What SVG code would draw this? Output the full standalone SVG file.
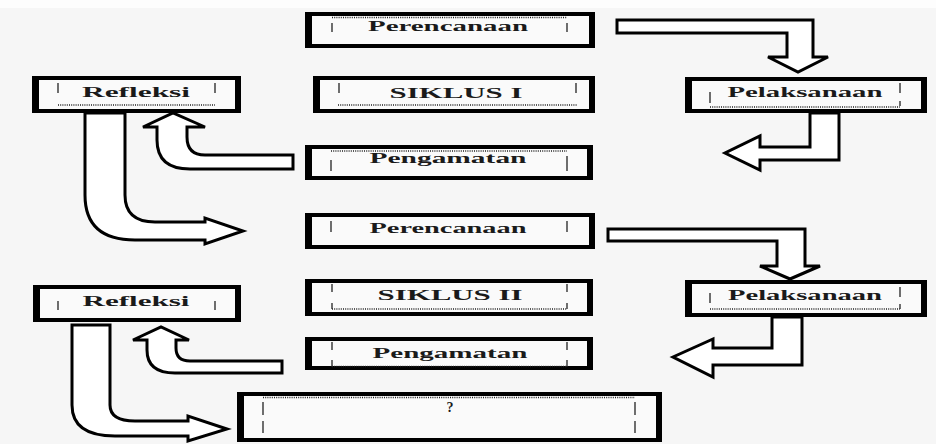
<svg xmlns="http://www.w3.org/2000/svg" width="936" height="444" viewBox="0 0 936 444">
<style>
.box{fill:#fafafa;stroke:#000;stroke-width:4}
.side{fill:#000}
.dot{stroke:#222;stroke-width:1.3;stroke-dasharray:1 1.2;fill:none}
.tick{stroke:#222;stroke-width:1.3;fill:none}
.lbl{font-family:"Liberation Serif","DejaVu Serif",serif;font-weight:bold;font-size:14px;fill:#1a1a1a;text-anchor:middle}
.arr{fill:#fff;stroke:#000;stroke-width:3;stroke-linejoin:miter}
</style>
<rect x="0" y="0" width="936" height="444" fill="#f6f6f6"/>
<rect x="0" y="0" width="936" height="8" fill="#fdfdfd"/>

<g id="connectors">
<path class="arr" d="M617,20 L813,20 L813,57 L828,57 L798,72 L768,57 L787,57 L787,33 L617,33 Z"/>
<path class="arr" d="M839,113 L839,160 L760,160 L760,170 L725,153 L760,136 L760,147 L810,147 L810,113 Z"/>
<path class="arr" d="M293,155 L205,155 Q187,155 187,137 L187,127 L205,127 L173,113 L143,127 L157,127 L157,140 Q157,169 190,169 L293,169 Z"/>
<path class="arr" d="M85,113 L85,195 Q85,240 135,240 L205,240 L205,244 L243,231 L205,218 L205,222 L155,222 Q125,222 125,195 L125,113 Z"/>
<path class="arr" d="M608,229 L805,229 L805,266 L820,266 L790,279 L760,266 L777,266 L777,241 L608,241 Z"/>
<path class="arr" d="M802,317 L802,365 L713,365 L713,377 L673,357 L713,339 L713,348 L772,348 L772,317 Z"/>
<path class="arr" d="M282,361 L190,361 Q176,361 176,348 L176,340 L189,340 L161,327 L133,340 L147,340 L147,350 Q147,373 175,373 L282,373 Z"/>
<path class="arr" d="M72,325 L110,325 L110,405 Q110,421 135,421 L188,421 L188,416 L227,429 L188,441 L188,436 L115,436 Q72,436 72,405 Z"/>
</g>

<g id="n-perencanaan1">
<rect class="box" x="307" y="14" width="286" height="32"/>
<rect class="side" x="305" y="12" width="7" height="36"/><rect class="side" x="589" y="12" width="6" height="36"/>
<line class="dot" x1="332" y1="17.5" x2="567" y2="17.5"/>
<line class="tick" x1="332" y1="23" x2="332" y2="32"/><line class="tick" x1="567" y1="23" x2="567" y2="32"/>
<text class="lbl" x="448" y="31" textLength="160" lengthAdjust="spacingAndGlyphs">Perencanaan</text>
</g>

<g id="n-siklus1">
<rect class="box" x="315" y="78" width="278" height="33"/>
<rect class="side" x="313" y="76" width="7" height="37"/><rect class="side" x="589" y="76" width="6" height="37"/>
<line class="dot" x1="338" y1="105" x2="577" y2="105"/>
<line class="tick" x1="339" y1="83" x2="339" y2="93"/><line class="tick" x1="576" y1="83" x2="576" y2="93"/>
<text class="lbl" x="456" y="98" font-size="15" textLength="133" lengthAdjust="spacingAndGlyphs">SIKLUS I</text>
</g>

<g id="n-pengamatan1">
<rect class="box" x="307" y="147" width="284" height="31"/>
<rect class="side" x="305" y="145" width="7" height="35"/><rect class="side" x="587" y="145" width="6" height="35"/>
<line class="dot" x1="331" y1="151" x2="567" y2="151"/>
<line class="tick" x1="331" y1="160" x2="331" y2="171"/><line class="tick" x1="567" y1="156" x2="567" y2="171"/>
<text class="lbl" x="448" y="163" textLength="157" lengthAdjust="spacingAndGlyphs">Pengamatan</text>
</g>

<g id="n-perencanaan2">
<rect class="box" x="307" y="215" width="286" height="32"/>
<rect class="side" x="305" y="213" width="7" height="36"/><rect class="side" x="589" y="213" width="6" height="36"/>
<line class="tick" x1="331" y1="221" x2="331" y2="232"/><line class="tick" x1="567" y1="221" x2="567" y2="232"/>
<text class="lbl" x="448" y="233" textLength="157" lengthAdjust="spacingAndGlyphs">Perencanaan</text>
</g>

<g id="n-siklus2">
<rect class="box" x="307" y="281" width="284" height="33"/>
<rect class="side" x="305" y="279" width="7" height="37"/><rect class="side" x="587" y="279" width="6" height="37"/>
<line class="dot" x1="332" y1="309" x2="567" y2="309"/>
<line class="tick" x1="332" y1="284" x2="332" y2="292"/><line class="tick" x1="332" y1="303" x2="332" y2="309"/>
<line class="tick" x1="567" y1="284" x2="567" y2="292"/><line class="tick" x1="567" y1="303" x2="567" y2="309"/>
<text class="lbl" x="450" y="300" font-size="15" textLength="145" lengthAdjust="spacingAndGlyphs">SIKLUS II</text>
</g>

<g id="n-pengamatan2">
<rect class="box" x="307" y="339" width="284" height="29"/>
<rect class="side" x="305" y="337" width="7" height="33"/><rect class="side" x="587" y="337" width="6" height="33"/>
<line class="dot" x1="332" y1="366.5" x2="567" y2="366.5"/>
<line class="tick" x1="332" y1="342" x2="332" y2="350"/><line class="tick" x1="332" y1="360" x2="332" y2="367"/>
<line class="tick" x1="567" y1="342" x2="567" y2="350"/><line class="tick" x1="567" y1="360" x2="567" y2="367"/>
<text class="lbl" x="450" y="358" textLength="155" lengthAdjust="spacingAndGlyphs">Pengamatan</text>
</g>

<g id="n-q">
<rect class="box" x="239" y="394" width="421" height="46"/>
<rect class="side" x="237" y="392" width="7" height="50"/><rect class="side" x="656" y="392" width="6" height="50"/>
<line class="dot" x1="263" y1="397.5" x2="635" y2="397.5"/>
<line class="tick" x1="263" y1="402" x2="263" y2="415"/><line class="tick" x1="263" y1="421" x2="263" y2="433"/>
<line class="tick" x1="635" y1="402" x2="635" y2="415"/><line class="tick" x1="635" y1="421" x2="635" y2="433"/>
<text class="lbl" x="450" y="412" font-size="13">?</text>
</g>

<g id="n-refleksi1">
<rect class="box" x="34" y="78" width="205" height="33"/>
<rect class="side" x="32" y="76" width="7" height="37"/><rect class="side" x="235" y="76" width="6" height="37"/>
<line class="dot" x1="58" y1="105" x2="215" y2="105"/>
<line class="tick" x1="58" y1="83" x2="58" y2="93"/><line class="tick" x1="215" y1="83" x2="215" y2="93"/>
<text class="lbl" x="136" y="97" textLength="108" lengthAdjust="spacingAndGlyphs">Refleksi</text>
</g>

<g id="n-refleksi2">
<rect class="box" x="35" y="287" width="204" height="33"/>
<rect class="side" x="33" y="285" width="7" height="37"/><rect class="side" x="235" y="285" width="6" height="37"/>
<line class="tick" x1="58" y1="301" x2="58" y2="310"/><line class="tick" x1="215" y1="301" x2="215" y2="310"/>
<text class="lbl" x="136" y="306" textLength="107" lengthAdjust="spacingAndGlyphs">Refleksi</text>
</g>

<g id="n-pelaksanaan1">
<rect class="box" x="687" y="79" width="238" height="32"/>
<rect class="side" x="685" y="77" width="7" height="36"/><rect class="side" x="921" y="77" width="6" height="36"/>
<line class="dot" x1="710" y1="107" x2="900" y2="107"/>
<line class="tick" x1="710" y1="92" x2="710" y2="103"/><line class="tick" x1="900" y1="83" x2="900" y2="93"/><line class="tick" x1="900" y1="101" x2="900" y2="106"/>
<text class="lbl" x="805" y="97" textLength="155" lengthAdjust="spacingAndGlyphs">Pelaksanaan</text>
</g>

<g id="n-pelaksanaan2">
<rect class="box" x="687" y="282" width="238" height="33"/>
<rect class="side" x="685" y="280" width="7" height="37"/><rect class="side" x="921" y="280" width="6" height="37"/>
<line class="dot" x1="710" y1="309" x2="900" y2="309"/>
<line class="tick" x1="710" y1="293" x2="710" y2="303"/><line class="tick" x1="900" y1="287" x2="900" y2="297"/><line class="tick" x1="900" y1="304" x2="900" y2="309"/>
<text class="lbl" x="805" y="300" textLength="154" lengthAdjust="spacingAndGlyphs">Pelaksanaan</text>
</g>
</svg>
